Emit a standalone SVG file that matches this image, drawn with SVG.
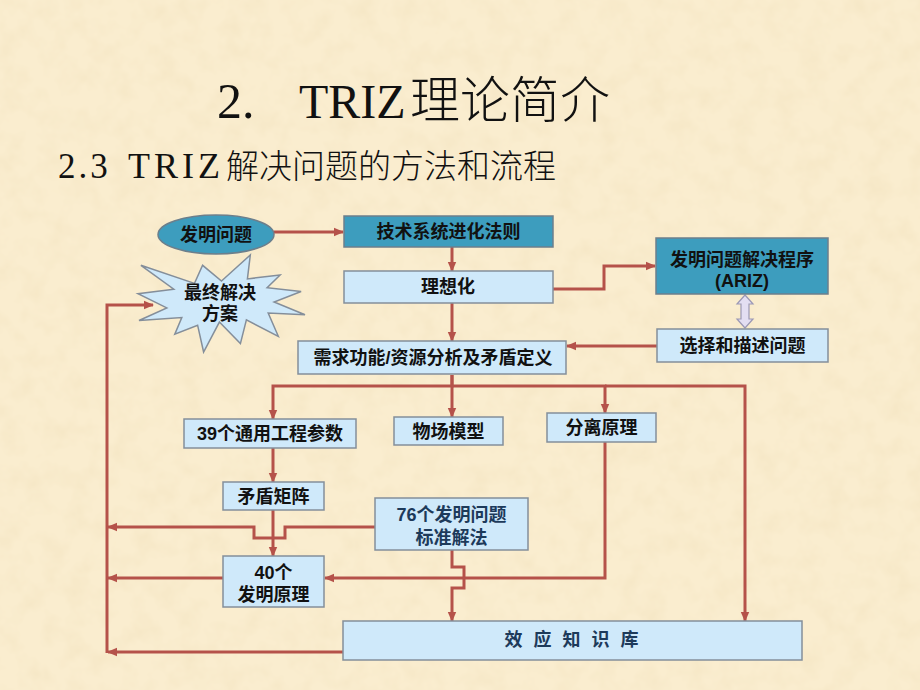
<svg xmlns="http://www.w3.org/2000/svg" width="920" height="690" viewBox="0 0 920 690">
<defs>
<marker id="ah" markerUnits="userSpaceOnUse" markerWidth="10" markerHeight="10" refX="9" refY="5" orient="auto">
<path d="M0,0.8 L10,5 L0,9.2 z" fill="#b5524a"/>
</marker>
<filter id="paper" x="0" y="0" width="100%" height="100%">
<feTurbulence type="fractalNoise" baseFrequency="0.045" numOctaves="3" seed="7"/>
<feColorMatrix type="matrix" values="0 0 0 0 0.82  0 0 0 0 0.68  0 0 0 0 0.42  0.5 0 0 0 -0.2"/>
</filter>
<style>
.bg{fill:#faedcf}
.c{fill:none;stroke:#b5524a;stroke-width:3;marker-end:url(#ah)}
.teal{fill:#3d9dbe;stroke:#6c7f8c;stroke-width:1.5}
.lb{fill:#cfe9fa;stroke:#848e9a;stroke-width:1.5}
.t{font-family:"Liberation Sans","Noto Sans CJK SC",sans-serif;font-weight:bold;font-size:18px;fill:#111;text-anchor:middle}
.tn{fill:#1d3a5a}
.title{font-family:"Liberation Serif","Noto Sans CJK SC",serif;fill:#111;font-weight:300}
</style>
</defs>
<rect class="bg" x="0" y="0" width="920" height="690"/>
<rect x="0" y="0" width="920" height="690" filter="url(#paper)"/>

<g id="titles">
<text class="title" y="118" font-size="50"><tspan x="217" font-size="50">2.</tspan><tspan x="299" font-size="48">TRIZ</tspan><tspan x="410">理论简介</tspan></text>
<text class="title" y="178" font-size="33"><tspan x="58" font-size="35" letter-spacing="3">2.3</tspan><tspan x="128" font-size="36" letter-spacing="4">TRIZ</tspan><tspan x="226">解决问题的方法和流程</tspan></text>
</g>

<g id="connectors">
<path class="c" d="M274,232 H343"/>
<path class="c" d="M452,247 V271"/>
<path class="c" d="M452,303 V341"/>
<path class="c" d="M553,289 H604 V266 H655"/>
<path class="c" d="M657,346 H567"/>
<path class="c" d="M452,375 V386 H273 V419"/>
<path class="c" d="M452,375 V417"/>
<path class="c" d="M452,386 H605 V413"/>
<path class="c" d="M605,386 H745 V621"/>
<path class="c" d="M273,447 V482"/>
<path class="c" d="M273,510 V556"/>
<path class="c" d="M375,527 H285 V538 H254 V527 H108"/>
<path class="c" d="M223,578 H108"/>
<path class="c" d="M605,442 V578 H325"/>
<path class="c" d="M452,550 V567 H464 V588 H452 V621"/>
<path class="c" d="M343,652 H108"/>
<path class="c" d="M107,653 V305 H153"/>
<polygon points="745,295 753,304 749,304 749,319 753,319 745,328 737,319 741,319 741,304 737,304" fill="#e3def2" stroke="#9b98b4" stroke-width="1.2"/>
</g>

<g id="n-faming">
<ellipse class="teal" cx="216" cy="234.5" rx="58" ry="19.5"/>
<text class="t" x="216" y="241">发明问题</text>
</g>

<g id="n-jishu">
<rect class="teal" x="344" y="216" width="209" height="31"/>
<text class="t" x="448.5" y="238">技术系统进化法则</text>
</g>

<g id="n-zuizhong">
<polygon class="lb" points="221.5,281 250.3,255 247.4,278.9 280.1,275 267.1,287.8 301.1,291.5 274.1,302 305,314.7 268.2,313.1 278.3,336.3 246.4,319.9 240.4,343.6 219.4,322.1 203.6,352 197.6,325.2 174.8,334.1 181.8,317.6 139,320.5 166.8,307.9 138,293.7 173.8,289.2 140.9,265.3 194.5,283.4 202.6,265.3"/>
<text class="t" x="220" y="299">最终解决</text>
<text class="t" x="220" y="320">方案</text>
</g>

<g id="n-lixiang">
<rect class="lb" x="344" y="271" width="209" height="32"/>
<text class="t" x="448" y="293">理想化</text>
</g>

<g id="n-ariz">
<rect class="teal" x="656" y="238" width="172" height="56"/>
<text class="t" x="742" y="266">发明问题解决程序</text>
<text class="t" x="742" y="287">(ARIZ)</text>
</g>

<g id="n-xuanze">
<rect class="lb" x="657" y="329" width="171" height="33"/>
<text class="t" x="742.5" y="352">选择和描述问题</text>
</g>

<g id="n-xuqiu">
<rect class="lb" x="298" y="341" width="268" height="33"/>
<text class="t" x="433" y="364">需求功能/资源分析及矛盾定义</text>
</g>

<g id="n-39">
<rect class="lb" x="184" y="419" width="172" height="29"/>
<text class="t" x="270" y="440">39个通用工程参数</text>
</g>

<g id="n-wuchang">
<rect class="lb" x="394" y="417" width="109" height="28"/>
<text class="t" x="448.5" y="438">物场模型</text>
</g>

<g id="n-fenli">
<rect class="lb" x="547" y="413" width="109" height="29"/>
<text class="t" x="601.5" y="434">分离原理</text>
</g>

<g id="n-maodun">
<rect class="lb" x="223" y="482" width="101" height="28"/>
<text class="t" x="273.5" y="503">矛盾矩阵</text>
</g>

<g id="n-76">
<rect class="lb" x="375" y="498" width="153" height="52"/>
<text class="t tn" x="451.5" y="521">76个发明问题</text>
<text class="t tn" x="451.5" y="544">标准解法</text>
</g>

<g id="n-40">
<rect class="lb" x="223" y="556" width="101" height="51"/>
<text class="t" x="273.5" y="579">40个</text>
<text class="t" x="273.5" y="601">发明原理</text>
</g>

<g id="n-xiaoying">
<rect class="lb" x="343" y="621" width="459" height="39"/>
<text class="t tn" x="573" y="646" font-weight="normal" letter-spacing="3">效 应 知 识 库</text>
</g>
</svg>
